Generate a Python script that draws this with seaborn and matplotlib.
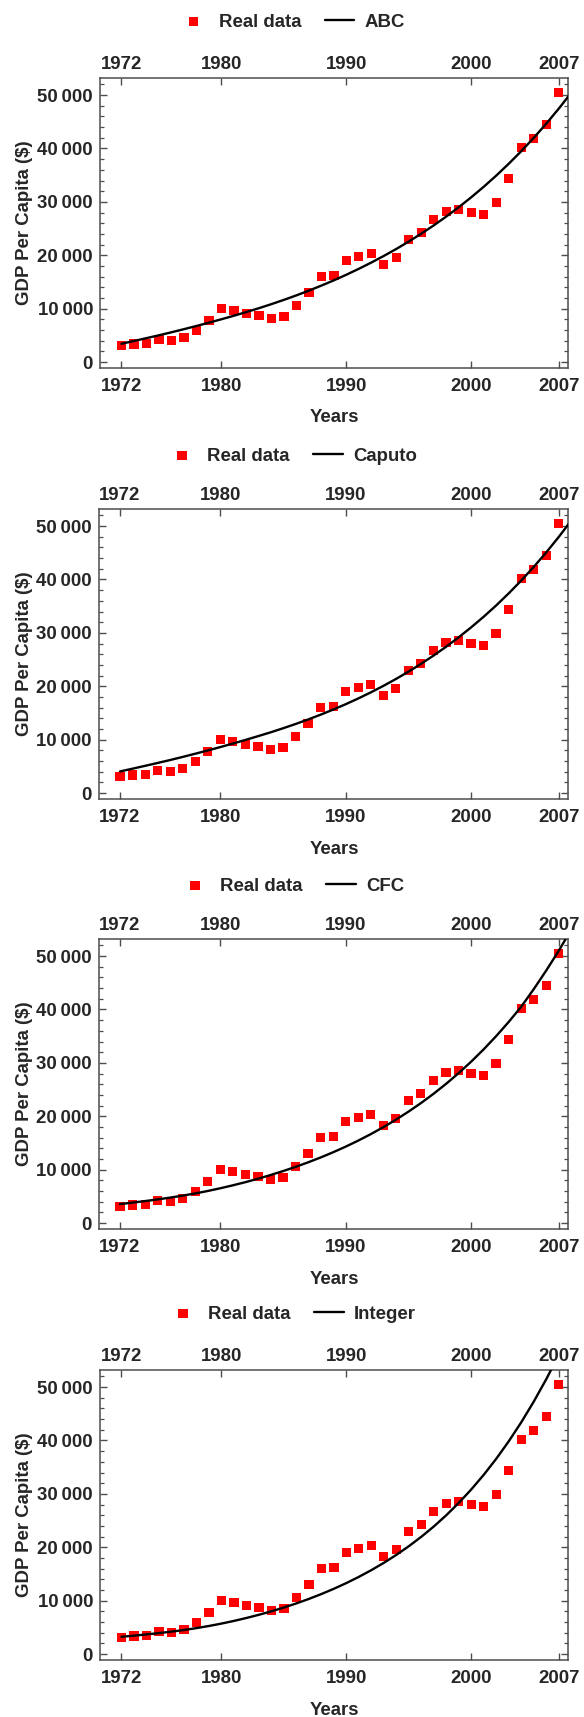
import matplotlib
matplotlib.use("Agg")
import matplotlib.pyplot as plt
import seaborn as sns
from matplotlib.ticker import FixedLocator, MultipleLocator, FuncFormatter

# ---------------- data ----------------
years = list(range(1972, 2008))
real_gdp = [3060, 3375, 3560, 4190, 4060, 4625, 5940, 7750, 10000, 9625,
            9060, 8690, 8125, 8500, 10560, 13000, 16000, 16190, 19060, 19750,
            20310, 18310, 19625, 22940, 24250, 26690, 28190, 28560, 28000, 27625,
            29875, 34375, 40190, 41875, 44500, 50500]

curve_years = list(range(1972, 2009))
abc_fit = [3440, 3960, 4490, 5030, 5590, 6170, 6770, 7390, 8030, 8690,
           9380, 10100, 10860, 11660, 12500, 13390, 14330, 15320, 16370, 17480,
           18650, 19890, 21200, 22590, 24060, 25620, 27270, 29020, 30880, 32850,
           34940, 37160, 39510, 42010, 44660, 47470, 50450]
caputo_fit = [4060, 4580, 5110, 5650, 6200, 6780, 7380, 7990, 8625, 9280,
              9960, 10660, 11375, 12140, 12940, 13790, 14690, 15640, 16650, 17720,
              18860, 20070, 21360, 22730, 24190, 25740, 27390, 29150, 31020, 33010,
              35130, 37390, 39790, 42350, 45070, 47970, 51060]
cfc_fit = [3560, 3840, 4130, 4440, 4780, 5150, 5560, 6020, 6530, 7080,
           7670, 8310, 9000, 9740, 10530, 11380, 12290, 13270, 14320, 15450,
           16660, 17960, 19360, 20860, 22470, 24200, 26060, 28060, 30210, 32520,
           35000, 37660, 40510, 43800, 47300, 51000, 55000]
integer_fit = [3250, 3460, 3690, 3940, 4210, 4520, 4870, 5270, 5720, 6220,
               6770, 7370, 8020, 8730, 9500, 10340, 11250, 12240, 13310, 14470,
               15730, 17100, 18590, 20210, 21980, 23910, 26020, 28330, 30850, 33600,
               36600, 39870, 43430, 47300, 51500, 56050, 61000]

model_names = ["ABC", "Caputo", "CFC", "Integer"]
model_fits = [abc_fit, caputo_fit, cfc_fit, integer_fit]

x_ticks = [1972, 1980, 1990, 2000, 2007]
y_ticks = [0, 10000, 20000, 30000, 40000, 50000]
x_label = "Years"
y_label = "GDP Per Capita ($)"
real_label = "Real data"

# ---------------- style ----------------
sns.set_theme(style="white")
plt.rcParams['font.family'] = ['Liberation Sans', 'DejaVu Sans']
plt.rcParams['font.weight'] = 'bold'
plt.rcParams['axes.labelweight'] = 'bold'

FS = 13.4
SPINE = '#4d4d4d'
W, H = 584, 1717
fig = plt.figure(figsize=(W / 100, H / 100), dpi=100)

tops = [78, 509, 939, 1370]
lefts = [100, 98.5, 98.5, 100]
right = 568.3
axh = 290
leg_y = [22, 456, 886, 1314]


def fmt(v, p):
    return f"{int(round(v)):,}".replace(",", "\u2009")


for i, (name, fit) in enumerate(zip(model_names, model_fits)):
    l, t = lefts[i], tops[i]
    ax = fig.add_axes([l / W, 1 - (t + axh) / H, (right - l) / W, axh / H])
    sns.scatterplot(x=years, y=real_gdp, ax=ax, marker='s', s=44, color='#ff0000',
                    edgecolor='none', linewidth=0, label=real_label, zorder=2)
    sns.lineplot(x=curve_years, y=fit, ax=ax, color='black', linewidth=1.7,
                 label=name, zorder=3)
    handles, labels = ax.get_legend_handles_labels()
    ax.get_legend().remove()

    ax.set_xlim(1970.28, 2007.76)
    ax.set_ylim(-1100, 53200)

    ax.xaxis.set_major_locator(FixedLocator(x_ticks))
    ax.yaxis.set_major_locator(FixedLocator(y_ticks))
    ax.yaxis.set_minor_locator(MultipleLocator(2000))
    ax.yaxis.set_major_formatter(FuncFormatter(fmt))

    ax.tick_params(axis='x', which='major', direction='in', length=5, width=1.0,
                   color=SPINE, top=True, bottom=True, labeltop=False,
                   labelbottom=True, labelsize=FS, pad=7)
    ax.tick_params(axis='y', which='major', direction='in', length=5, width=1.0,
                   color=SPINE, left=True, right=True, labelsize=FS, pad=5)
    ax.tick_params(axis='y', which='minor', direction='in', length=3, width=0.9,
                   color=SPINE, left=True, right=True)
    for lab in ax.get_xticklabels() + ax.get_yticklabels():
        lab.set_fontweight('bold')

    # top tick labels (frame labels above the plot)
    sec = ax.secondary_xaxis('top')
    sec.xaxis.set_major_locator(FixedLocator(x_ticks))
    sec.tick_params(axis='x', length=0, labelsize=FS, pad=3.6)
    sec.spines['top'].set_visible(False)
    for lab in sec.get_xticklabels():
        lab.set_fontweight('bold')

    for s in ax.spines.values():
        s.set_color(SPINE)
        s.set_linewidth(1.1)

    ax.set_xlabel(x_label, fontsize=FS, fontweight='bold')
    ax.set_ylabel(y_label, fontsize=FS, fontweight='bold')
    ax.xaxis.set_label_coords((334 - l) / (right - l), -41.5 / axh)
    ax.yaxis.set_label_coords((33 - l) / (right - l), 0.5)

    fig.legend(handles, labels, loc='center', bbox_to_anchor=(0.5, 1 - leg_y[i] / H),
               ncol=2, frameon=False, prop={'weight': 'bold', 'size': FS},
               handlelength=1.6, handletextpad=0.55, columnspacing=1.25,
               markerscale=1.0)

fig.savefig("out.png", dpi=100)
